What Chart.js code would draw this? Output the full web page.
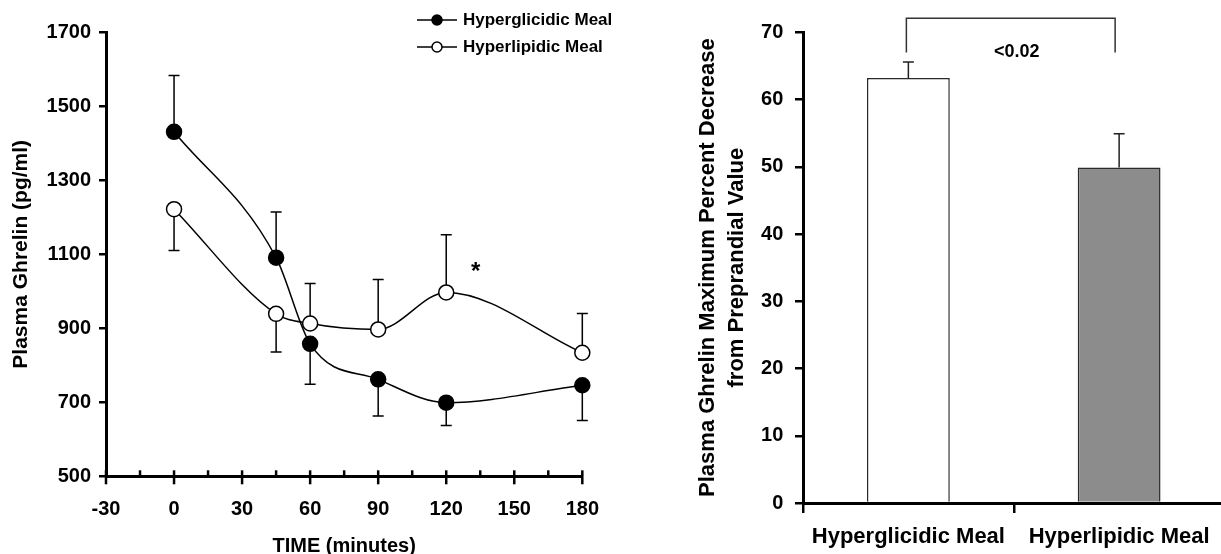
<!DOCTYPE html>
<html>
<head>
<meta charset="utf-8">
<script src="https://cdn.jsdelivr.net/npm/chart.js@4.4.1/dist/chart.umd.min.js"></script>
<style>
    html, body { margin: 0; padding: 0; background: #fff; overflow: hidden; }
    body { width: 1221px; height: 554px; position: relative; }
    #time-wrap { position: absolute; left: 0; top: 0; width: 620px; height: 554px; }
    #drop-wrap { position: absolute; left: 640px; top: 0; width: 590px; height: 554px; }
</style>
</head>
<body>
<div id="time-wrap"><canvas id="ghrelin-time-chart"></canvas></div>
<div id="drop-wrap"><canvas id="ghrelin-drop-chart"></canvas></div>
<script>
// left panel: plasma ghrelin over time
const timePoints = [0, 45, 60, 90, 120, 180];
const seriesLabels = ['Hyperglicidic Meal', 'Hyperlipidic Meal'];
const glicidicMeans = [1431, 1091, 858, 762, 699, 746];
const lipidicMeans = [1222, 939, 913, 897, 997, 834];
// SEM, signed: + drawn upward, - drawn downward (as in the figure)
const glicidicErr = [152, 123, -109, -99, -62, -95];
const lipidicErr = [-112, -103, 108, 135, 156, 106];
const timeTickLabels = [-30, 0, 30, 60, 90, 120, 150, 180];
const timeMinorTicks = [-15, 15, 45, 75, 105, 135, 165];
const ghrelinTicks = [500, 700, 900, 1100, 1300, 1500, 1700];
const starMark = { time: 133, value: 1065, text: '*' };

// right panel: maximum percent decrease
const mealLabels = ['Hyperglicidic Meal', 'Hyperlipidic Meal'];
const maxDecrease = [63.2, 49.9];
const maxDecreaseErr = [2.4, 5.0];
const decreaseTicks = [0, 10, 20, 30, 40, 50, 60, 70];
const pValueText = '<0.02';
const bracketTop = 72.1;
const bracketFoot = 67.0;

const FONT = '"Liberation Sans", Arial, Helvetica, sans-serif';
Chart.defaults.font.family = FONT;
Chart.defaults.color = '#000';

const lineErrorBars = {
    id: 'lineErrorBars',
    beforeDatasetsDraw(chart) {
        const { ctx, scales: { y } } = chart;
        ctx.save();
        ctx.strokeStyle = '#000';
        ctx.lineWidth = 1.5;
        chart.data.datasets.forEach((ds, di) => {
            chart.getDatasetMeta(di).data.forEach((pt, i) => {
                const end = y.getPixelForValue(ds.data[i].y + ds.errors[i]);
                ctx.beginPath();
                ctx.moveTo(pt.x, pt.y);
                ctx.lineTo(pt.x, end);
                ctx.moveTo(pt.x - 5.5, end);
                ctx.lineTo(pt.x + 5.5, end);
                ctx.stroke();
            });
        });
        ctx.restore();
    }
};

const timeAxisTicks = {
    id: 'timeAxisTicks',
    afterDraw(chart) {
        const { ctx, chartArea, scales: { x } } = chart;
        ctx.save();
        ctx.strokeStyle = '#000';
        ctx.lineWidth = 2.5;
        x.ticks.forEach((t, i) => {
            const px = x.getPixelForTick(i);
            const major = timeTickLabels.includes(t.value);
            ctx.beginPath();
            ctx.moveTo(px, chartArea.bottom - 6);
            ctx.lineTo(px, chartArea.bottom + (major ? 8 : 0));
            ctx.stroke();
        });
        ctx.restore();
    }
};

const cornerLegend = {
    id: 'cornerLegend',
    afterDraw(chart) {
        const { ctx } = chart;
        ctx.save();
        ctx.font = `bold 17px ${FONT}`;
        ctx.textBaseline = 'middle';
        chart.data.datasets.forEach((ds, i) => {
            const y = 20 + i * 27;
            ctx.strokeStyle = '#000';
            ctx.lineWidth = 1.5;
            ctx.beginPath();
            ctx.moveTo(417, y);
            ctx.lineTo(457, y);
            ctx.stroke();
            ctx.beginPath();
            ctx.arc(437, y, 5, 0, Math.PI * 2);
            ctx.fillStyle = ds.pointBackgroundColor;
            ctx.fill();
            ctx.stroke();
            ctx.fillStyle = '#000';
            ctx.fillText(ds.label, 463, y);
        });
        ctx.restore();
    }
};

const starLabel = {
    id: 'starLabel',
    afterDatasetsDraw(chart) {
        const { ctx, scales: { x, y } } = chart;
        const size = 24;
        ctx.save();
        ctx.font = `bold ${size}px ${FONT}`;
        ctx.textAlign = 'center';
        ctx.textBaseline = 'alphabetic';
        ctx.fillStyle = '#000';
        ctx.fillText(starMark.text, x.getPixelForValue(starMark.time), y.getPixelForValue(starMark.value) + size * 0.5);
        ctx.restore();
    }
};

const barErrorBars = {
    id: 'barErrorBars',
    afterDatasetsDraw(chart) {
        const { ctx, scales: { y } } = chart;
        const ds = chart.data.datasets[0];
        ctx.save();
        ctx.strokeStyle = '#222';
        ctx.lineWidth = 1.5;
        chart.getDatasetMeta(0).data.forEach((bar, i) => {
            const end = y.getPixelForValue(ds.data[i] + ds.errors[i]);
            ctx.beginPath();
            ctx.moveTo(bar.x, bar.y);
            ctx.lineTo(bar.x, end);
            ctx.moveTo(bar.x - 5.5, end);
            ctx.lineTo(bar.x + 5.5, end);
            ctx.stroke();
        });
        ctx.restore();
    }
};

const significanceBracket = {
    id: 'significanceBracket',
    afterDraw(chart) {
        const { ctx, scales: { y } } = chart;
        const bars = chart.getDatasetMeta(0).data;
        const x1 = bars[0].x - 2, x2 = bars[1].x - 4;
        const top = y.getPixelForValue(bracketTop);
        const foot = y.getPixelForValue(bracketFoot);
        ctx.save();
        ctx.strokeStyle = '#333';
        ctx.lineWidth = 1.5;
        ctx.beginPath();
        ctx.moveTo(x1, foot);
        ctx.lineTo(x1, top);
        ctx.lineTo(x2, top);
        ctx.lineTo(x2, foot);
        ctx.stroke();
        ctx.font = `bold 18px ${FONT}`;
        ctx.textAlign = 'center';
        ctx.textBaseline = 'middle';
        ctx.fillStyle = '#000';
        ctx.fillText(pValueText, (x1 + x2) / 2 + 6, foot);
        ctx.restore();
    }
};

const tickFont = { size: 20, weight: 'bold' };

const lineSeries = (label, means, errors, fillColor) => ({
    label,
    data: timePoints.map((t, i) => ({ x: t, y: means[i] })),
    errors,
    borderColor: '#000',
    borderWidth: 1.5,
    pointRadius: 7.5,
    pointBackgroundColor: fillColor,
    pointBorderColor: '#000',
    pointBorderWidth: 1.5,
    cubicInterpolationMode: 'monotone',
    clip: false,
    fill: false
});

new Chart(document.getElementById('ghrelin-time-chart'), {
    type: 'line',
    data: {
        datasets: [
            lineSeries(seriesLabels[0], glicidicMeans, glicidicErr, '#000'),
            lineSeries(seriesLabels[1], lipidicMeans, lipidicErr, '#fff')
        ]
    },
    options: {
        responsive: true,
        maintainAspectRatio: false,
        animation: false,
        layout: { padding: { left: 0, right: 34.5, top: 32.3, bottom: 0 } },
        plugins: { legend: { display: false }, tooltip: { enabled: false } },
        scales: {
            x: {
                type: 'linear',
                min: -30,
                max: 180,
                afterBuildTicks: s => {
                    s.ticks = [...timeTickLabels, ...timeMinorTicks].sort((a, b) => a - b).map(v => ({ value: v }));
                },
                afterFit: s => { s.height = 77.7; },
                ticks: {
                    callback: v => timeTickLabels.includes(v) ? String(v) : '',
                    autoSkip: false,
                    maxRotation: 0,
                    padding: 21,
                    color: '#000',
                    font: tickFont
                },
                grid: { display: false, drawTicks: false },
                border: { display: true, color: '#000', width: 3 },
                title: {
                    display: true,
                    text: 'TIME (minutes)',
                    color: '#000',
                    font: { size: 20, weight: 'bold', lineHeight: 0.8 },
                    padding: 0
                }
            },
            y: {
                min: 500,
                max: 1700,
                afterBuildTicks: s => { s.ticks = ghrelinTicks.map(v => ({ value: v })); },
                afterFit: s => { s.width = 106; },
                ticks: { callback: v => String(v), padding: 8, color: '#000', font: tickFont },
                grid: { drawOnChartArea: false, drawTicks: true, tickLength: 7, color: '#000', lineWidth: 2.5 },
                border: { color: '#000', width: 3 },
                title: {
                    display: true,
                    text: 'Plasma Ghrelin (pg/ml)',
                    color: '#000',
                    font: { size: 21, weight: 'bold', lineHeight: 1.2 },
                    padding: { top: 8.4, bottom: 0 }
                }
            }
        }
    },
    plugins: [lineErrorBars, timeAxisTicks, cornerLegend, starLabel]
});

new Chart(document.getElementById('ghrelin-drop-chart'), {
    type: 'bar',
    data: {
        labels: mealLabels,
        datasets: [{
            data: maxDecrease,
            errors: maxDecreaseErr,
            backgroundColor: ['#ffffff', '#8c8c8c'],
            borderColor: '#2a2a2a',
            borderWidth: 1.5,
            barPercentage: 0.393,
            categoryPercentage: 1
        }]
    },
    options: {
        responsive: true,
        maintainAspectRatio: false,
        animation: false,
        layout: { padding: { left: 0, right: 5.5, top: 32.3, bottom: 0 } },
        plugins: { legend: { display: false }, tooltip: { enabled: false } },
        scales: {
            x: {
                afterFit: s => { s.height = 51; },
                ticks: { padding: 10.8, color: '#000', font: { size: 22, weight: 'bold' }, maxRotation: 0, autoSkip: false },
                grid: { offset: true, drawOnChartArea: false, tickLength: 10, color: '#000', lineWidth: 2.5 },
                border: { color: '#000', width: 3 }
            },
            y: {
                min: 0,
                max: 70,
                afterBuildTicks: s => { s.ticks = decreaseTicks.map(v => ({ value: v })); },
                afterFit: s => { s.width = 163; },
                ticks: { padding: 11.7, color: '#000', font: tickFont },
                grid: { drawOnChartArea: false, tickLength: 8, color: '#000', lineWidth: 2.5 },
                border: { color: '#000', width: 3 },
                title: {
                    display: true,
                    text: ['Plasma Ghrelin Maximum Percent Decrease', 'from Preprandial Value'],
                    color: '#000',
                    font: { size: 22, weight: 'bold', lineHeight: 1.318 },
                    padding: { top: 53.5, bottom: 0 }
                }
            }
        }
    },
    plugins: [barErrorBars, significanceBracket]
});
</script>
</body>
</html>
